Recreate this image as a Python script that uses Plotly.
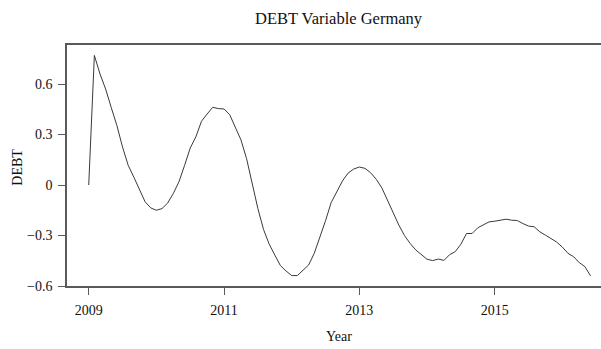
import numpy as np
import plotly.graph_objects as go

# Monthly DEBT values, January 2009 onwards
start_year = 2009
debt = [
    0.000, 0.770, 0.660, 0.570, 0.460, 0.353, 0.225, 0.117, 0.047, -0.031,
    -0.100, -0.136, -0.150, -0.140, -0.107, -0.050, 0.019, 0.117, 0.220, 0.286,
    0.379, 0.422, 0.462, 0.454, 0.452, 0.418, 0.347, 0.268, 0.156, 0.008,
    -0.140, -0.264, -0.351, -0.416, -0.479, -0.511, -0.538, -0.538, -0.504, -0.475,
    -0.406, -0.315, -0.212, -0.104, -0.035, 0.024, 0.071, 0.095, 0.107, 0.099,
    0.073, 0.034, -0.018, -0.090, -0.169, -0.238, -0.300, -0.347, -0.386, -0.416,
    -0.441, -0.449, -0.440, -0.448, -0.414, -0.396, -0.352, -0.288, -0.288, -0.254,
    -0.237, -0.219, -0.215, -0.209, -0.203, -0.209, -0.211, -0.229, -0.244, -0.248,
    -0.278, -0.298, -0.319, -0.339, -0.369, -0.406, -0.426, -0.461, -0.485, -0.540,
]
years = start_year + np.arange(len(debt)) / 12.0

x_ticks = [2009, 2011, 2013, 2015]
y_ticks = [-0.6, -0.3, 0, 0.3, 0.6]
y_tick_labels = ["\u22120.6", "\u22120.3", "0", "0.3", "0.6"]

title_text = "DEBT Variable Germany"
x_title = "Year"
y_title = "DEBT"

FONT = "Liberation Serif, Times New Roman, serif"
AXIS_COLOR = "#5a5a5a"
TEXT_COLOR = "#111111"

fig = go.Figure()
fig.add_trace(go.Scatter(
    x=years, y=debt, mode="lines",
    line=dict(color="#3a3a3a", width=1),
    hoverinfo="skip", showlegend=False,
))

fig.update_layout(
    width=601, height=349,
    margin=dict(l=67, r=0, t=45, b=63),
    paper_bgcolor="white", plot_bgcolor="white",
    font=dict(family=FONT, size=14, color=TEXT_COLOR),
    showlegend=False,
    xaxis=dict(
        range=[2008.679, 2016.571],
        tickvals=x_ticks, ticktext=[str(v) for v in x_ticks],
        ticks="outside", ticklen=7, tickwidth=1.2, tickcolor=AXIS_COLOR,
        showline=True, linecolor=AXIS_COLOR, linewidth=1.5, mirror=True,
        showgrid=False, zeroline=False,
        tickfont=dict(family=FONT, size=14, color=TEXT_COLOR),
        ticklabelstandoff=3,
    ),
    yaxis=dict(
        range=[-0.6, 0.832],
        tickvals=y_ticks, ticktext=y_tick_labels,
        ticks="outside", ticklen=7, tickwidth=1.2, tickcolor=AXIS_COLOR,
        showline=True, linecolor=AXIS_COLOR, linewidth=1.5, mirror=False,
        showgrid=False, zeroline=False,
        tickfont=dict(family=FONT, size=14, color=TEXT_COLOR),
        ticklabelstandoff=3,
    ),
    annotations=[
        dict(text=title_text, xref="paper", yref="paper", x=0.509, y=1.112,
             xanchor="center", yanchor="middle", showarrow=False,
             font=dict(family=FONT, size=16.5, color=TEXT_COLOR)),
        dict(text=x_title, xref="paper", yref="paper", x=0.5088, y=-0.2095,
             xanchor="center", yanchor="middle", showarrow=False,
             font=dict(family=FONT, size=14, color=TEXT_COLOR)),
        dict(text=y_title, xref="paper", yref="paper", x=-0.0918, y=0.495,
             xanchor="center", yanchor="middle", showarrow=False, textangle=-90,
             font=dict(family=FONT, size=14, color=TEXT_COLOR)),
    ],
)

fig.write_html("out.html")
